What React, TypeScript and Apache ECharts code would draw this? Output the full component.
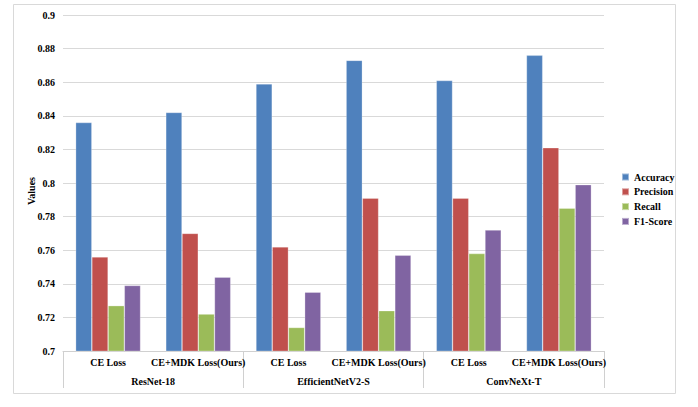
import React, { useEffect, useRef } from "react";
import * as echarts from "echarts";

const categories = [
  "CE Loss",
  "CE+MDK Loss(Ours)",
  "CE Loss",
  "CE+MDK Loss(Ours)",
  "CE Loss",
  "CE+MDK Loss(Ours)",
];
const groups = ["ResNet-18", "EfficientNetV2-S", "ConvNeXt-T"];
const seriesNames = ["Accuracy", "Precision", "Recall", "F1-Score"];
const accuracy = [0.836, 0.842, 0.859, 0.873, 0.861, 0.876];
const precision = [0.756, 0.77, 0.762, 0.791, 0.791, 0.821];
const recall = [0.727, 0.722, 0.714, 0.724, 0.758, 0.785];
const f1 = [0.739, 0.744, 0.735, 0.757, 0.772, 0.799];
const colors = ["#4F81BD", "#C0504D", "#9BBB59", "#8064A2"];
const yTitle = "Values";

const FONT = "'Liberation Serif', 'Times New Roman', serif";

export default function App() {
  const ref = useRef<HTMLDivElement>(null);
  useEffect(() => {
    document.body.style.margin = "0";
    if (!ref.current) return;
    const chart = echarts.init(ref.current, undefined, { renderer: "svg" });
    const values = [accuracy, precision, recall, f1];
    chart.setOption({
      animation: false,
      color: colors,
      grid: { left: 63, right: 94, top: 15, bottom: 56 },
      graphic: [
        {
          type: "rect",
          shape: { x: 13.5, y: 4.5, width: 662, height: 389 },
          style: { fill: "none", stroke: "#D9D9D9", lineWidth: 1 },
          silent: true,
        },
        {
          type: "text",
          x: 31,
          y: 191,
          rotation: Math.PI / 2,
          silent: true,
          style: {
            text: yTitle,
            fontFamily: FONT,
            fontWeight: "bold",
            fontSize: 10,
            fill: "#000",
            align: "center",
            verticalAlign: "middle",
          },
        },
      ],
      legend: {
        orient: "vertical",
        left: 616,
        top: 167,
        icon: "rect",
        itemWidth: 7,
        itemHeight: 7,
        itemGap: 4.8,
        data: seriesNames,
        textStyle: {
          fontFamily: FONT,
          fontWeight: "bold",
          fontSize: 10,
          color: "#000",
          lineHeight: 10,
        },
      },
      xAxis: [
        {
          type: "category",
          data: categories,
          position: "bottom",
          axisLine: { show: true, lineStyle: { color: "#D0D0D0", width: 1 } },
          axisTick: { show: false },
          axisLabel: {
            interval: 0,
            margin: 6,
            fontFamily: FONT,
            fontWeight: "bold",
            fontSize: 10,
            color: "#000",
          },
        },
        {
          type: "category",
          data: groups,
          position: "bottom",
          offset: 0,
          axisLine: { show: false },
          axisTick: {
            show: true,
            length: 37,
            lineStyle: { color: "#D0D0D0", width: 1 },
          },
          axisLabel: {
            interval: 0,
            margin: 25,
            fontFamily: FONT,
            fontWeight: "bold",
            fontSize: 10,
            color: "#000",
          },
        },
      ],
      yAxis: {
        type: "value",
        min: 0.7,
        max: 0.9,
        interval: 0.02,
        axisLine: { show: false },
        axisTick: { show: false },
        splitLine: { lineStyle: { color: "#D9D9D9", width: 1 } },
        axisLabel: {
          margin: 8,
          fontFamily: FONT,
          fontWeight: "bold",
          fontSize: 10,
          color: "#000",
          formatter: (v: number) => String(parseFloat(v.toFixed(2))),
        },
      },
      series: seriesNames.map((name, i) => ({
        name,
        type: "bar",
        xAxisIndex: 0,
        data: values[i],
        barGap: "0%",
        barCategoryGap: "28%",
        itemStyle: {
          color: colors[i],
          borderColor: "rgba(255,255,255,0.45)",
          borderWidth: 0.6,
        },
      })),
    });
    return () => chart.dispose();
  }, []);
  return <div ref={ref} style={{ width: 698, height: 407 }} />;
}
